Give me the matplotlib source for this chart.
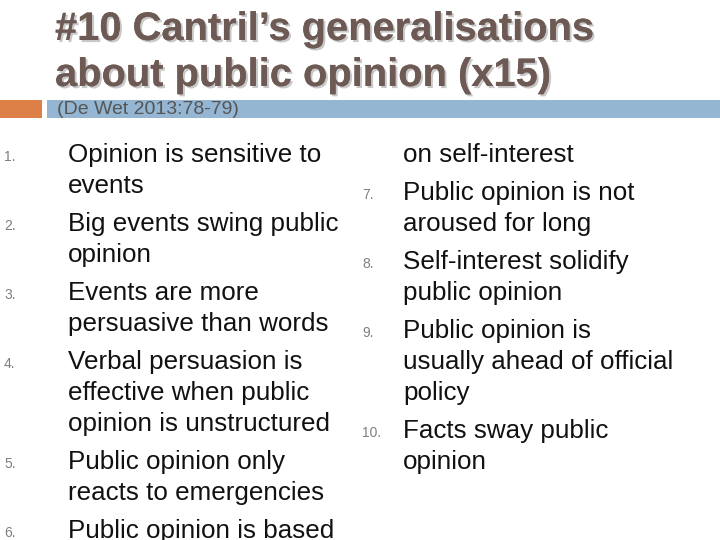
import matplotlib.pyplot as plt
from matplotlib.patches import Rectangle
import matplotlib.patheffects as pe

title_lines = ["#10 Cantril\u2019s generalisations", "about public opinion (x15)"]
subtitle = "(De Wet 2013:78-79)"

left_items = [
    ("1.", ["Opinion is sensitive to", "events"]),
    ("2.", ["Big events swing public", "opinion"]),
    ("3.", ["Events are more", "persuasive than words"]),
    ("4.", ["Verbal persuasion is", "effective when public", "opinion is unstructured"]),
    ("5.", ["Public opinion only", "reacts to emergencies"]),
    ("6.", ["Public opinion is based"]),
]
right_items = [
    ("", ["on self-interest"]),
    ("7.", ["Public opinion is not", "aroused for long"]),
    ("8.", ["Self-interest solidify", "public opinion"]),
    ("9.", ["Public opinion is", "usually ahead of official", "policy"]),
    ("10.", ["Facts sway public", "opinion"]),
]

fig = plt.figure(figsize=(7.2, 5.4), dpi=100)
ax = fig.add_axes([0, 0, 1, 1])
ax.set_xlim(0, 720)
ax.set_ylim(540, 0)
ax.axis("off")

font = "Liberation Sans"

# header bars
ax.add_patch(Rectangle((0, 100), 42, 18, color="#dd8047", lw=0))
ax.add_patch(Rectangle((47, 100), 673, 18, color="#94b6d2", lw=0))

shadow = [pe.withSimplePatchShadow(offset=(1.5, -1.5), shadow_rgbFace="#c8c8c8", alpha=1), pe.Normal()]
for i, line in enumerate(title_lines):
    ax.text(55, 29 + i * 46, line, fontsize=28.7, fontweight="bold", color="#6e5a55",
            family=font, va="center", ha="left", path_effects=shadow)
ax.text(57, 110, subtitle, fontsize=14, color="#555555", family=font, va="center")


def draw_column(items, x_num, x_text, y0):
    y = y0
    for num, lines in items:
        if num:
            ax.text(x_num, y + 2, num, fontsize=10, color="#7f7f7f", family=font, va="center")
        for ln in lines:
            ax.text(x_text, y, ln, fontsize=18.7, color="#111111", family=font, va="center")
            y += 31
        y += 7


draw_column(left_items, 4, 68, 155)
draw_column(right_items, 362, 403, 155)

fig.savefig("out.png", dpi=100)
